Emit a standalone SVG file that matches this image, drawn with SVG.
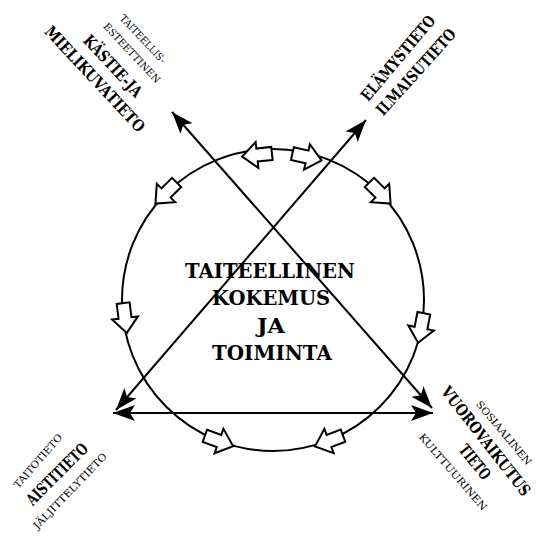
<svg xmlns="http://www.w3.org/2000/svg" width="536" height="536" viewBox="0 0 536 536">
<style>
.ln{stroke:#000;stroke-width:2;fill:none}
.sa{fill:#fff;stroke:#000;stroke-width:2;stroke-linejoin:miter}
text{font-family:"DejaVu Serif","Liberation Serif",serif;fill:#000}
</style>
<defs>
<marker id="ah" markerUnits="userSpaceOnUse" markerWidth="26" markerHeight="20" refX="22" refY="8" orient="auto-start-reverse" viewBox="0 0 26 16">
<path d="M22,8 L0,0 L5,8 L0,16 Z" fill="#000"/>
</marker>
<path id="sarrow" d="M-15,-6.5 L0,-6.5 L0,-13 L15,0 L0,13 L0,6.5 L-15,6.5 Z"/>
</defs>
<rect width="536" height="536" fill="#fff"/>
<g id="circle">
<circle class="ln" cx="273" cy="300" r="151"/>
</g>
<g id="connectors">
<line class="ln" x1="172" y1="112" x2="432" y2="408" marker-start="url(#ah)" marker-end="url(#ah)"/>
<line class="ln" x1="366" y1="120" x2="116" y2="410" marker-start="url(#ah)" marker-end="url(#ah)"/>
<line class="ln" x1="113" y1="413" x2="433" y2="413" marker-start="url(#ah)" marker-end="url(#ah)"/>
</g>
<g id="flow-arrows">
<use class="sa" href="#sarrow" transform="translate(257,155) rotate(174)"/>
<use class="sa" href="#sarrow" transform="translate(307,157) rotate(13)"/>
<use class="sa" href="#sarrow" transform="translate(380,193) rotate(45)"/>
<use class="sa" href="#sarrow" transform="translate(421,328) rotate(101)"/>
<use class="sa" href="#sarrow" transform="translate(329,441) rotate(159)"/>
<use class="sa" href="#sarrow" transform="translate(219,441) rotate(20)"/>
<use class="sa" href="#sarrow" transform="translate(125,318) rotate(83)"/>
<use class="sa" href="#sarrow" transform="translate(166,193) rotate(135)"/>
</g>
<g id="center" text-anchor="middle" font-weight="bold" font-size="21">
<text x="270" y="278" textLength="170" lengthAdjust="spacingAndGlyphs">TAITEELLINEN</text>
<text x="271" y="305" textLength="118" lengthAdjust="spacingAndGlyphs">KOKEMUS</text>
<text x="271" y="333" textLength="28" lengthAdjust="spacingAndGlyphs">JA</text>
<text x="272" y="360" textLength="120" lengthAdjust="spacingAndGlyphs">TOIMINTA</text>
</g>
<g id="top-left" text-anchor="middle">
<text font-size="10" dy="0.35em" transform="translate(143,39) rotate(47)" textLength="62" lengthAdjust="spacingAndGlyphs">TAITEELLIS-</text>
<text font-size="10" dy="0.35em" transform="translate(132,53) rotate(47)" textLength="78" lengthAdjust="spacingAndGlyphs">ESTEETTINEN</text>
<text font-size="16" font-weight="bold" dy="0.35em" transform="translate(113,66) rotate(47)" textLength="78" lengthAdjust="spacingAndGlyphs">KÄSTIE-JA</text>
<text font-size="16" font-weight="bold" dy="0.35em" transform="translate(95,79) rotate(47)" textLength="138" lengthAdjust="spacingAndGlyphs">MIELIKUVATIETO</text>
</g>
<g id="top-right" text-anchor="middle">
<text font-size="16" font-weight="bold" dy="0.35em" transform="translate(398,58) rotate(-50)" textLength="106" lengthAdjust="spacingAndGlyphs">ELÄMYSTIETO</text>
<text font-size="16" font-weight="bold" dy="0.35em" transform="translate(416,72) rotate(-48)" textLength="110" lengthAdjust="spacingAndGlyphs">ILMAISUTIETO</text>
</g>
<g id="bottom-right" text-anchor="middle">
<text font-size="10" dy="0.35em" transform="translate(504,433) rotate(50)" textLength="80" lengthAdjust="spacingAndGlyphs">SOSIAALINEN</text>
<text font-size="16" font-weight="bold" dy="0.35em" transform="translate(486,441) rotate(52)" textLength="134" lengthAdjust="spacingAndGlyphs">VUOROVAIKUTUS</text>
<text font-size="16" font-weight="bold" dy="0.35em" transform="translate(475,462) rotate(51)" textLength="40" lengthAdjust="spacingAndGlyphs">TIETO</text>
<text font-size="10" dy="0.35em" transform="translate(453,472) rotate(49)" textLength="98" lengthAdjust="spacingAndGlyphs">KULTTUURINEN</text>
</g>
<g id="bottom-left" text-anchor="middle">
<text font-size="10" dy="0.35em" transform="translate(38,461) rotate(-49)" textLength="68" lengthAdjust="spacingAndGlyphs">TAITOTIETO</text>
<text font-size="16" font-weight="bold" dy="0.35em" transform="translate(57,474) rotate(-45)" textLength="80" lengthAdjust="spacingAndGlyphs">AISTITIETO</text>
<text font-size="10" dy="0.35em" transform="translate(70,491) rotate(-46)" textLength="101" lengthAdjust="spacingAndGlyphs">JÄLJITTELYTIETO</text>
</g>
</svg>
